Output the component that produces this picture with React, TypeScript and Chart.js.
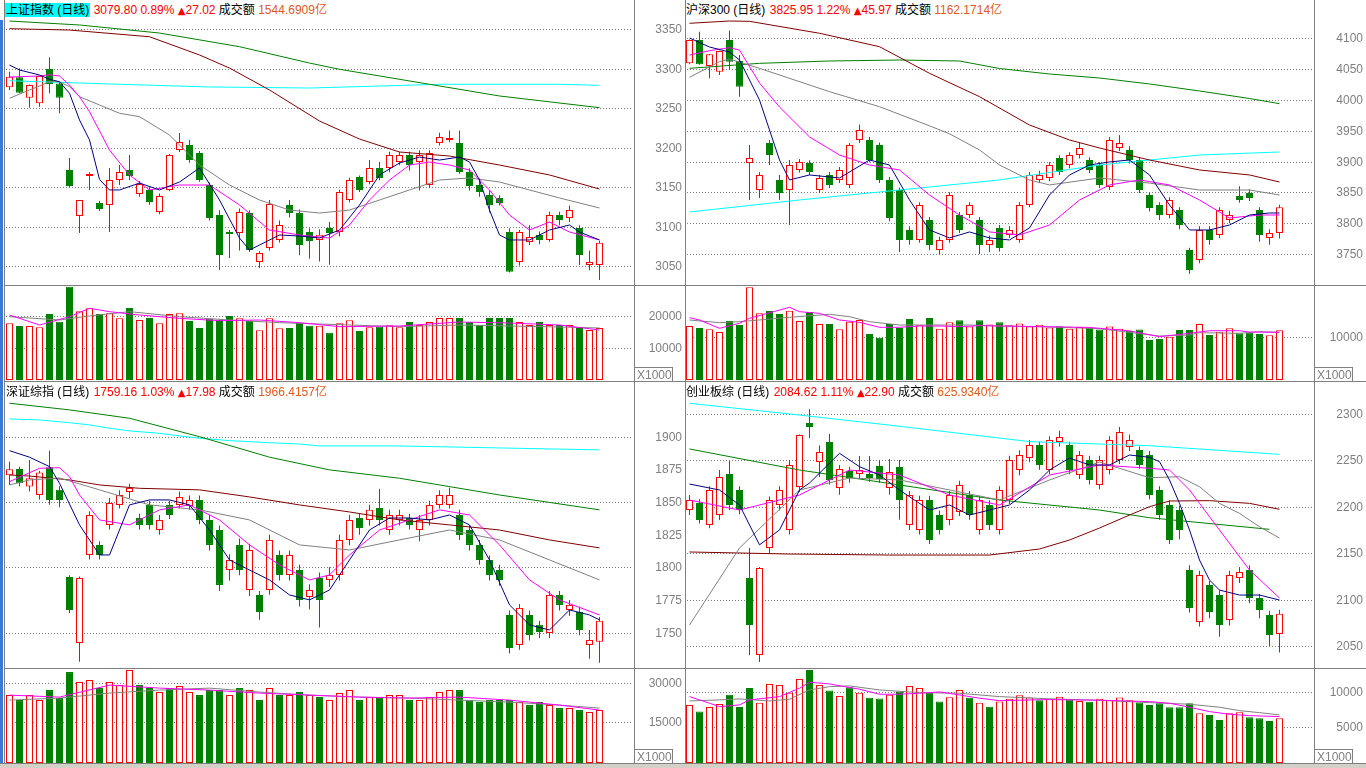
import React, { useEffect, useRef } from "react";
import { Chart, registerables } from "chart.js";

Chart.register(...registerables);

type OHLC = [number, number, number, number]; // open, high, low, close
type Pt = [number, number]; // [day index, value]

// ================= 上证指数 =================
const shInfo = ["上证指数 (日线)", "3079.80", "0.89%", "27.02", "1544.6909亿"];
const shCandles: OHLC[] = [
  [3276.6, 3296.3, 3273.2, 3290.0], [3289.2, 3300.6, 3269.0, 3269.7], [3263.4, 3280.0, 3250.8, 3279.5], [3256.3, 3291.5, 3252.0, 3290.9],
  [3299.7, 3314.6, 3269.0, 3280.8], [3281.5, 3283.0, 3243.7, 3263.4], [3171.9, 3187.0, 3150.3, 3151.6], [3113.6, 3134.0, 3092.0, 3133.9],
  [3164.3, 3169.0, 3146.6, 3166.8], [3130.0, 3133.0, 3120.0, 3122.5], [3127.6, 3174.4, 3093.4, 3159.2], [3159.2, 3178.2, 3152.9, 3169.4],
  [3171.9, 3190.9, 3159.2, 3164.3], [3141.5, 3158.0, 3138.0, 3154.2], [3146.6, 3150.0, 3128.0, 3131.4], [3118.7, 3142.0, 3116.0, 3139.0],
  [3146.6, 3192.0, 3145.0, 3190.9], [3197.2, 3218.7, 3194.7, 3207.3], [3203.5, 3210.0, 3181.0, 3184.5], [3193.4, 3196.0, 3157.0, 3159.2],
  [3152.9, 3156.0, 3108.0, 3111.1], [3114.9, 3121.0, 3045.3, 3064.3], [3093.4, 3096.0, 3060.5, 3090.9], [3092.1, 3123.0, 3070.0, 3118.7],
  [3117.4, 3121.0, 3068.0, 3070.6], [3055.4, 3069.0, 3047.8, 3066.8], [3073.1, 3133.9, 3070.0, 3128.8], [3083.3, 3108.0, 3080.0, 3102.3],
  [3127.6, 3134.0, 3112.0, 3117.4], [3117.4, 3122.0, 3064.0, 3076.9], [3093.4, 3098.0, 3060.0, 3082.0], [3083.3, 3097.0, 3056.0, 3090.0],
  [3098.5, 3106.0, 3052.0, 3092.1], [3093.4, 3147.0, 3088.0, 3144.0], [3133.9, 3162.0, 3131.0, 3159.2], [3163.0, 3165.0, 3144.0, 3146.6],
  [3156.7, 3184.5, 3154.0, 3174.4], [3174.4, 3182.0, 3159.0, 3161.8], [3174.4, 3195.0, 3169.0, 3190.9], [3182.0, 3195.0, 3178.0, 3190.9],
  [3190.9, 3195.0, 3171.0, 3178.2], [3182.0, 3197.0, 3146.0, 3190.9], [3152.9, 3197.0, 3149.0, 3193.4], [3206.0, 3219.0, 3203.0, 3213.7],
  [3209.9, 3222.0, 3207.0, 3212.4], [3206.0, 3222.0, 3167.0, 3169.4], [3169.4, 3174.0, 3146.0, 3151.6], [3152.9, 3161.0, 3138.0, 3144.0],
  [3140.2, 3146.0, 3118.0, 3127.6], [3136.4, 3140.0, 3127.0, 3130.0], [3093.4, 3098.0, 3042.0, 3043.0], [3055.4, 3096.0, 3051.0, 3093.4],
  [3080.7, 3102.0, 3077.0, 3087.1], [3089.6, 3094.0, 3078.0, 3083.3], [3083.3, 3119.0, 3081.0, 3114.9], [3114.9, 3119.0, 3102.0, 3108.6],
  [3111.0, 3127.0, 3106.0, 3121.2], [3098.5, 3102.0, 3051.6, 3064.3], [3051.6, 3070.0, 3045.0, 3055.4], [3051.6, 3082.0, 3032.6, 3079.8],
];
const shVolume = [
  17719, 16875, 16875, 16458, 20625, 18229, 29167, 21458, 22396, 20625, 20833, 19271, 22500, 18750, 19375, 17708, 20625, 20833, 18438, 16250,
  19167, 18750, 20000, 19271, 18438, 15521, 19271, 16146, 16250, 17917, 16979, 16979, 14792, 17708, 18646, 15313, 16458, 16667, 17083, 16458,
  18125, 17187, 18125, 19375, 19375, 19375, 18125, 17187, 19375, 19375, 19375, 18125, 17187, 18125, 17187, 17187, 17187, 16562, 15625, 16250,
];
const shMa5: Pt[] = [[0, 3304.8], [1, 3298.5], [3, 3292.2], [4, 3286.7], [5, 3283.7], [6, 3269], [7, 3235.2], [8, 3209.9], [9, 3160], [10, 3146.6], [11, 3146.6], [13, 3155.4], [15, 3146.6], [17, 3156.7], [19, 3174.4], [21, 3133.9], [23, 3085.8], [24, 3070.6], [25, 3076.9], [27, 3089.6], [29, 3088.3], [31, 3085.8], [33, 3095.9], [35, 3127.6], [37, 3165.6], [39, 3180.7], [41, 3188.3], [43, 3184.5], [45, 3188.3], [46, 3182], [47, 3159.2], [48, 3121.2], [49, 3089.6], [50, 3083.3], [52, 3083.3], [54, 3095.9], [56, 3102.3], [57, 3093.4], [59, 3083.3]];
const shMa10: Pt[] = [[0, 3289.6], [3, 3290.9], [4, 3292.5], [5, 3290.9], [6, 3279.5], [7, 3264.7], [8, 3245.7], [10, 3197.2], [12, 3165.6], [14, 3146.6], [17, 3152.9], [20, 3152.9], [23, 3127.6], [26, 3095.9], [29, 3089.6], [32, 3085.8], [34, 3102.3], [36, 3133.9], [38, 3159.2], [40, 3178.2], [42, 3182], [44, 3178.2], [46, 3171.9], [48, 3146.6], [50, 3114.9], [52, 3095.9], [54, 3106], [56, 3093.4], [59, 3083.3]];
const shMa20: Pt[] = [[0, 3262.7], [2, 3273.2], [3, 3278.2], [4, 3283.7], [5, 3283.7], [6, 3277.3], [7, 3264.7], [9, 3254.2], [11, 3243.7], [13, 3239.4], [16, 3216.2], [19, 3178.2], [22, 3152.9], [25, 3133.9], [28, 3121.2], [31, 3117.4], [34, 3121.2], [37, 3133.9], [40, 3146.6], [43, 3159.2], [46, 3161.8], [49, 3156.7], [52, 3146.6], [55, 3136.5], [59, 3123.8]];
const shMa60: Pt[] = [[0, 3350.8], [6, 3349.1], [14, 3340.6], [19, 3317.5], [22, 3301], [26, 3273.2], [31, 3233.9], [35, 3211.1], [39, 3194.7], [44, 3189.6], [49, 3178.2], [54, 3165.6], [59, 3147.8]];
const shMa120: Pt[] = [[0, 3360.5], [7, 3355.5], [15, 3345.3], [23, 3328], [30, 3307.3], [33, 3299.4], [42, 3280.4], [49, 3265.6], [59, 3250.8]];
const shMa250: Pt[] = [[0, 3284.9], [10, 3280.8], [20, 3277], [30, 3275.7], [37, 3278.2], [43, 3280.4], [55, 3280.4], [59, 3279.1]];
const shVma5: Pt[] = [[0, 20312], [3, 17187], [6, 19792], [8, 22396], [10, 21354], [13, 20312], [17, 19271], [21, 18542], [25, 18750], [29, 17917], [33, 16667], [39, 16875], [45, 18125], [50, 17812], [55, 17187], [59, 15625]];
const shVma10: Pt[] = [[0, 19792], [5, 18750], [8, 20000], [12, 21354], [17, 19792], [22, 18750], [27, 17917], [31, 17500], [39, 16667], [45, 17187], [50, 16875], [55, 16562], [59, 16250]];
const shPriceTicks = [3350, 3300, 3250, 3200, 3150, 3100, 3050];
const shPriceGrid = [3350, 3300, 3250, 3200, 3150, 3100, 3050];
const shVolTicks = [20000, 10000];

// ================= 沪深300 =================
const hsInfo = ["沪深300 (日线)", "3825.95", "1.22%", "45.97", "1162.1714亿"];
const hsCandles: OHLC[] = [
  [4059.4, 4098, 4058, 4097.3], [4097.3, 4110.8, 4057, 4057.8], [4055.1, 4074.5, 4035.1, 4074.1], [4045.8, 4080, 4040.5, 4079.4],
  [4097.3, 4112.4, 4048.6, 4062.1], [4063.2, 4072.9, 4005.3, 4021.5], [3897.6, 3926.9, 3837.6, 3905.7], [3853.8, 3883, 3840.8, 3878.2],
  [3930.1, 3935, 3894.4, 3910.6], [3870.1, 3878, 3837.6, 3849], [3853.8, 3902.5, 3797, 3894.4], [3886.3, 3904, 3882, 3899.3],
  [3897.6, 3902, 3878, 3883], [3853.8, 3878, 3849, 3873.3], [3878.2, 3883, 3857, 3862], [3870.1, 3891, 3865, 3886.3],
  [3862, 3930, 3857, 3926.9], [3935, 3960, 3930, 3951.2], [3935, 3940, 3899, 3902.5], [3926.9, 3931, 3865, 3870.1],
  [3870.1, 3875, 3803, 3808.4], [3853.8, 3858, 3753, 3772.7], [3788.9, 3795, 3765, 3772.7], [3772.7, 3834, 3768, 3829.5],
  [3805.1, 3810, 3756, 3764.6], [3756.5, 3778, 3750, 3772.7], [3772.7, 3850, 3768, 3845.7], [3813.2, 3818, 3784, 3788.9],
  [3813.2, 3834, 3808, 3829.5], [3805.1, 3810, 3750, 3764.6], [3764.6, 3780, 3753, 3772.7], [3792.2, 3797, 3754, 3759.7],
  [3780.8, 3795, 3776, 3788.9], [3772.7, 3834, 3768, 3829.5], [3829.5, 3883, 3826, 3878.2], [3870.1, 3885, 3865, 3878.2],
  [3873.3, 3899, 3868, 3894.4], [3905.7, 3910, 3878, 3883], [3894.4, 3915, 3889, 3910.6], [3910.6, 3930, 3905, 3922],
  [3902.5, 3907, 3881, 3886.3], [3894.4, 3899, 3857, 3862], [3858.7, 3940, 3854, 3935], [3922, 3943, 3917, 3930.1],
  [3918.8, 3925, 3897, 3902.5], [3902.5, 3907, 3849, 3853.8], [3845.7, 3850, 3819, 3824.6], [3829.5, 3834, 3805, 3813.2],
  [3813.2, 3842, 3808, 3837.6], [3821.4, 3826, 3790, 3797], [3756.5, 3760, 3718, 3724], [3740.2, 3795, 3735, 3788.9],
  [3788.9, 3795, 3765, 3772.7], [3780.8, 3826, 3776, 3821.4], [3805.1, 3820, 3800, 3813.2], [3844, 3860, 3833, 3837.6],
  [3849, 3855, 3836, 3840.8], [3821.4, 3826, 3770, 3780.8], [3775.9, 3790, 3765, 3784], [3784, 3830, 3775, 3825.95],
];
const hsVolume = [
  12636, 12168, 11864, 11232, 13806, 12870, 21692, 15608, 16146, 15444, 16216, 13806, 15912, 13104, 13104, 11864, 13642, 14040, 10764, 9898,
  13104, 12168, 14274, 12792, 14500, 12000, 13500, 14000, 12500, 14000, 13000, 13500, 12800, 13200, 12500, 12900, 12300, 12600, 12000, 12400,
  12200, 11800, 12500, 12000, 11500, 11800, 9360, 9594, 10132, 11700, 11700, 13104, 10530, 11302, 12098, 10928, 11068, 10764, 10460, 11630,
];
const hsMa5: Pt[] = [[0, 4100.5], [2, 4085.9], [4, 4077.8], [5, 4064.8], [7, 3999.9], [8, 3951.2], [9, 3902.5], [10, 3870.1], [12, 3878.2], [15, 3873.3], [18, 3902.5], [20, 3894.4], [22, 3837.6], [24, 3788.9], [26, 3776], [28, 3785.7], [30, 3776], [32, 3772.7], [34, 3792.2], [36, 3845.7], [38, 3878.2], [40, 3894.4], [42, 3899.3], [44, 3902.5], [46, 3878.2], [48, 3829.5], [50, 3788.9], [52, 3788.9], [54, 3797], [56, 3813.2], [58, 3816.5], [59, 3816.5]];
const hsMa10: Pt[] = [[0, 4072.9], [2, 4079.9], [4, 4084.8], [5, 4081], [7, 4027.5], [9, 3988.5], [12, 3939.9], [15, 3910.6], [18, 3894.4], [21, 3886.3], [24, 3845.7], [27, 3813.2], [30, 3785.7], [33, 3780.8], [36, 3797], [39, 3837.6], [42, 3862], [45, 3870.1], [48, 3862], [51, 3837.6], [54, 3808.4], [57, 3813.2], [59, 3813.2]];
const hsMa20: Pt[] = [[0, 4036.7], [3, 4062.1], [4, 4066.4], [7, 4051.3], [14, 4013.4], [19, 3989], [24, 3958], [26, 3945], [29, 3918.8], [31, 3894.4], [34, 3870.1], [36, 3862], [41, 3873.3], [46, 3865], [51, 3853.8], [56, 3853.8], [59, 3845.7]];
const hsMa60: Pt[] = [[0, 4124.4], [4, 4128.1], [6, 4127.6], [13, 4108.2], [19, 4086.4], [24, 4043.2], [29, 4005.3], [34, 3959.3], [38, 3935], [41, 3922], [46, 3902.5], [51, 3886.3], [56, 3878.2], [59, 3866.8]];
const hsMa120: Pt[] = [[0, 4051.3], [7, 4059.4], [14, 4063.2], [21, 4064.8], [27, 4063.2], [31, 4051], [36, 4042.1], [41, 4035.6], [46, 4025.9], [51, 4014.5], [56, 4002.3], [59, 3993.9]];
const hsMa250: Pt[] = [[0, 3818.1], [11, 3837.6], [21, 3853.8], [31, 3870.1], [41, 3894.4], [51, 3910.6], [59, 3915.5]];
const hsVma5: Pt[] = [[0, 14578], [1, 14040], [3, 12098], [5, 13268], [6, 14438], [10, 17012], [11, 15982], [13, 15608], [15, 14040], [17, 13502], [19, 12332], [21, 12332], [23, 12636], [25, 12636], [27, 12472], [29, 12706], [35, 12500], [40, 12300], [44, 11500], [47, 10132], [50, 10928], [52, 11536], [55, 11536], [56, 11232], [59, 11162]];
const hsVma10: Pt[] = [[0, 14040], [3, 13408], [5, 13642], [7, 14040], [10, 14672], [14, 15374], [16, 14812], [18, 13642], [21, 12870], [25, 12870], [28, 12870], [31, 12636], [36, 12400], [41, 12000], [47, 10296], [50, 10530], [51, 11068], [55, 10928], [57, 11302], [59, 11162]];
const hsPriceTicks = [4100, 4050, 4000, 3950, 3900, 3850, 3800, 3750];
const hsPriceGrid = [4100, 4050, 4000, 3950, 3900, 3850, 3800, 3750];
const hsVolTicks = [10000];

// ================= 深证综指 =================
const szInfo = ["深证综指 (日线)", "1759.16", "1.03%", "17.98", "1966.4157亿"];
const szCandles: OHLC[] = [
  [1870.5, 1880.9, 1863.1, 1875.1], [1875.3, 1877, 1862, 1864.4], [1861.8, 1882.2, 1858, 1868.2], [1855.4, 1874, 1852, 1872.5],
  [1876.6, 1889.3, 1848, 1851.6], [1859.3, 1862, 1846, 1851.6], [1792.7, 1794, 1765, 1767.4], [1742.2, 1793, 1727.7, 1791.9],
  [1809.5, 1843, 1806, 1840.1], [1817.2, 1820, 1806, 1809.5], [1832.5, 1853, 1829, 1849.3], [1847.8, 1859, 1845, 1855.4],
  [1857.7, 1864, 1853, 1860.8], [1837.8, 1841, 1829, 1832.5], [1847.8, 1851, 1829, 1832.5], [1828.6, 1840, 1825, 1836.3],
  [1847.8, 1851, 1837, 1840.1], [1847.8, 1858, 1845, 1853.9], [1847, 1855, 1844, 1851.6], [1851.6, 1855, 1833, 1836.3],
  [1836.3, 1840, 1813, 1817.2], [1828.6, 1832, 1782, 1786.6], [1798, 1810, 1790, 1805.7], [1817.2, 1822, 1794, 1798],
  [1782.7, 1818, 1778, 1813.3], [1778.9, 1782, 1760, 1765.9], [1782.7, 1825, 1779, 1821], [1809.5, 1813, 1790, 1794.2],
  [1794.2, 1813, 1790, 1809.5], [1798, 1802, 1770, 1775.1], [1777.4, 1787, 1768, 1782.7], [1791.9, 1796, 1754, 1775.1],
  [1790.4, 1800, 1785, 1794.2], [1794.2, 1825, 1790, 1821], [1821, 1840, 1817, 1836.3], [1837.8, 1841, 1825, 1830.2],
  [1836.3, 1848, 1832, 1844], [1845.5, 1860, 1832, 1836.3], [1828.6, 1844, 1825, 1840.1], [1836.3, 1844, 1832, 1840.1],
  [1837.8, 1841, 1829, 1832.5], [1828.6, 1840, 1820, 1836.3], [1836.3, 1851, 1832, 1847.8], [1847.8, 1859, 1845, 1855.4],
  [1847.8, 1861, 1845, 1855.4], [1840.1, 1844, 1821, 1824.8], [1828.6, 1832, 1813, 1817.2], [1817.2, 1821, 1802, 1805.7],
  [1805.7, 1809, 1790, 1794.2], [1798, 1802, 1786, 1790.4], [1763.6, 1767, 1734, 1738.3], [1740.6, 1772, 1737, 1769],
  [1763.6, 1767, 1744, 1748.3], [1756, 1759, 1746, 1750.6], [1749.8, 1782, 1746, 1778.9], [1778.9, 1782, 1767, 1771.3],
  [1767.4, 1775, 1763, 1771.3], [1765.9, 1770, 1748, 1752.1], [1740.6, 1752, 1730, 1744.5], [1743, 1762, 1727, 1759.16],
];
const szVolume = [
  25389, 23436, 25389, 23436, 27342, 24217, 34373, 30467, 31248, 28123, 30467, 29295, 35154, 29295, 28123, 26561, 28123, 28904, 26561, 25389,
  27342, 27342, 25389, 28123, 27342, 23436, 28123, 25389, 25389, 26561, 25389, 24608, 23436, 26170, 27342, 23436, 24608, 24608, 25389, 25389,
  23436, 23436, 24608, 26561, 27342, 27342, 23436, 22655, 23436, 23436, 23436, 22655, 21483, 22655, 21483, 20311, 20311, 19530, 18749, 19530,
];
const szMa5: Pt[] = [[0, 1889.3], [2, 1884.3], [4, 1877.1], [5, 1864.4], [7, 1832.5], [9, 1809.5], [10, 1809.5], [12, 1847.8], [14, 1851.6], [16, 1851.6], [18, 1847.8], [20, 1828.6], [22, 1805.7], [24, 1798], [26, 1790.4], [28, 1778.9], [30, 1775.1], [32, 1782.7], [34, 1805.7], [36, 1828.6], [38, 1837.8], [40, 1837.8], [42, 1836.3], [44, 1840.1], [46, 1832.5], [48, 1805.7], [50, 1771.3], [52, 1756], [54, 1752.1], [56, 1767.4], [58, 1763.6], [59, 1759.8]];
const szMa10: Pt[] = [[0, 1865.6], [3, 1875.8], [5, 1876.3], [6, 1869.4], [7, 1855.4], [9, 1836.3], [12, 1832.5], [15, 1844], [18, 1847.8], [21, 1836.3], [24, 1817.2], [27, 1801.9], [30, 1790.4], [32, 1794.2], [34, 1809.5], [37, 1828.6], [40, 1836.3], [43, 1844], [46, 1840.1], [49, 1817.2], [52, 1790.4], [55, 1775.1], [59, 1763.6]];
const szMa20: Pt[] = [[0, 1863.1], [2, 1866.9], [5, 1868.4], [9, 1859.3], [14, 1847.8], [19, 1844], [24, 1836.3], [29, 1817.2], [34, 1813.3], [39, 1821], [44, 1828.6], [49, 1821], [54, 1805.7], [59, 1790.4]];
const szMa60: Pt[] = [[0, 1870.7], [2, 1869.9], [6, 1866.9], [9, 1863.1], [13, 1860.5], [19, 1859.3], [24, 1853.9], [29, 1847.8], [34, 1842.4], [39, 1836.3], [44, 1832.5], [49, 1828.6], [54, 1821], [59, 1814.9]];
const szMa120: Pt[] = [[0, 1925.6], [6, 1920.5], [12, 1914.1], [19, 1900], [26, 1884.3], [32, 1874.6], [39, 1868.2], [49, 1855.4], [59, 1844]];
const szMa250: Pt[] = [[0, 1913.6], [3, 1912.8], [6, 1910.7], [8, 1909], [10, 1906.5], [12, 1904.4], [15, 1902.6], [17, 1900.6], [19, 1898.8], [22, 1897], [26, 1895.4], [29, 1894.4], [31, 1892.9], [39, 1892.9], [49, 1891.4], [59, 1889.9]];
const szVma5: Pt[] = [[0, 25389], [5, 24608], [10, 29295], [15, 28123], [20, 27342], [25, 26170], [30, 25389], [35, 24608], [40, 24217], [45, 24608], [50, 23436], [55, 21483], [59, 19530]];
const szVma10: Pt[] = [[0, 23436], [5, 24217], [10, 26170], [15, 27342], [20, 28123], [25, 26561], [30, 25389], [35, 24608], [40, 24217], [45, 23436], [50, 22655], [55, 21483], [59, 20311]];
const szPriceTicks = [1900, 1875, 1850, 1825, 1800, 1775, 1750];
const szPriceGrid = [1900, 1850, 1800, 1750];
const szVolTicks = [30000, 15000];

// ================= 创业板综 =================
const cyInfo = ["创业板综 (日线)", "2084.62", "1.11%", "22.90", "625.9340亿"];
const cyCandles: OHLC[] = [
  [2196.5, 2212.7, 2191.2, 2207.3], [2204, 2208, 2182, 2185.8], [2180.4, 2222, 2177, 2218.1], [2191.2, 2239.6, 2185.8, 2232.1],
  [2235.3, 2249.3, 2196.5, 2201.9], [2218.1, 2222, 2192, 2196.5], [2123.2, 2155.6, 2040.3, 2072.6], [2040.3, 2135, 2032.7, 2134],
  [2155.6, 2211, 2150, 2207.3], [2201.9, 2222, 2196, 2218.1], [2175, 2250, 2170, 2245], [2221.3, 2278, 2216, 2277.3],
  [2290.3, 2305, 2274, 2286], [2248.2, 2266, 2232, 2259], [2269.8, 2278.4, 2224, 2228.9], [2220.2, 2245, 2213, 2240.7],
  [2238.6, 2243, 2226, 2231], [2235.3, 2254.7, 2231, 2239.6], [2235.3, 2254.7, 2227, 2231], [2243.9, 2250, 2226, 2229.9],
  [2220.2, 2251.4, 2213, 2237.5], [2242.9, 2250.4, 2186, 2207.3], [2180.4, 2217, 2175, 2212.7], [2175, 2212, 2170, 2207.3],
  [2207.3, 2212, 2160, 2164.2], [2191.2, 2196, 2170, 2175], [2185.8, 2217, 2180, 2212.7], [2194.4, 2228, 2190, 2223.5],
  [2212.7, 2217, 2186, 2191.2], [2175, 2212, 2170, 2207.3], [2201.9, 2207, 2175, 2180.4], [2175, 2222, 2170, 2218.1],
  [2207.3, 2255, 2203, 2250.4], [2239.6, 2261, 2234, 2255.8], [2252.6, 2272, 2248, 2266.6], [2266.6, 2270, 2240, 2245],
  [2239.6, 2276, 2235, 2272], [2269.8, 2282, 2265, 2275.2], [2266.6, 2270, 2235, 2239.6], [2234.2, 2260, 2230, 2255.8],
  [2250.4, 2255, 2224, 2228.9], [2223.5, 2255, 2219, 2250.4], [2239.6, 2276, 2235, 2272], [2250.4, 2286, 2246, 2280.6],
  [2264.4, 2278, 2260, 2272], [2261.2, 2265, 2241, 2245], [2255.8, 2260, 2208, 2212.7], [2218.1, 2222, 2186, 2191.2],
  [2201.9, 2207, 2160, 2164.2], [2196.5, 2201, 2165, 2175], [2131.9, 2137, 2086, 2091], [2075.8, 2131, 2071, 2126.5],
  [2115.7, 2120, 2080, 2086.6], [2105, 2110, 2060, 2072.6], [2078, 2131, 2072, 2126.5], [2123.2, 2135, 2118, 2129.7],
  [2131.9, 2137, 2096, 2101.7], [2101.7, 2106, 2080, 2088.8], [2083.4, 2088, 2050, 2061.8], [2062.9, 2089, 2043, 2084.62],
];
const cyVolume = [
  8143, 7203, 7862, 8284, 9589, 7862, 10530, 8466, 11092, 10951, 9870, 11794, 13057, 10951, 10151, 9407, 10628, 9870, 9168, 9028,
  9589, 10011, 10811, 10530, 9870, 8607, 9224, 10249, 9168, 8466, 7904, 8607, 9000, 9500, 9200, 8800, 9000, 9300, 8900, 8700,
  8600, 9000, 8800, 9200, 8800, 8500, 8143, 8382, 7820, 7820, 8382, 6978, 6739, 6037, 6978, 7118, 6416, 6276, 5897, 6276,
];
const cyMa5: Pt[] = [[0, 2224.5], [3, 2218.1], [5, 2201.9], [7, 2159], [9, 2175], [11, 2218.1], [12, 2225.6], [15, 2257.6], [17, 2243.2], [19, 2234.2], [21, 2218.1], [24, 2196.5], [26, 2201.9], [28, 2191.1], [30, 2196.5], [32, 2201.9], [34, 2218.1], [36, 2239.6], [38, 2252.6], [40, 2245], [42, 2245], [44, 2255.8], [46, 2253.3], [47, 2248.6], [48, 2228.9], [49, 2203.7], [50, 2175], [51, 2142.6], [52, 2121.1], [53, 2110.3], [55, 2104.9], [57, 2104.9], [59, 2099.5]];
const cyMa10: Pt[] = [[0, 2207.3], [5, 2196.5], [11, 2212.7], [16, 2239.6], [21, 2234.2], [26, 2212.7], [31, 2201.9], [36, 2234.2], [41, 2245], [46, 2241.5], [48, 2239.6], [50, 2218.1], [51, 2203.7], [52, 2189.3], [53, 2175], [56, 2131.9], [59, 2101.7]];
const cyMa20: Pt[] = [[0, 2072.6], [5, 2155.6], [11, 2218.1], [16, 2231], [21, 2228.9], [26, 2218.1], [31, 2207.3], [36, 2228.9], [41, 2248.2], [46, 2231.3], [49, 2232.4], [51, 2221.6], [53, 2203.7], [55, 2192.9], [57, 2178.5], [59, 2166.3]];
const cyMa60: Pt[] = [[0, 2151.3], [10, 2149.1], [20, 2148], [30, 2148], [35, 2154.5], [38, 2164.2], [41, 2177.1], [44, 2191.1], [46, 2200.1], [48, 2206.2], [52, 2206.6], [56, 2203.7], [59, 2197.3]];
const cyMa120: Pt[] = [[0, 2262.3], [11, 2239.6], [21, 2223.5], [31, 2207.3], [41, 2196.5], [46, 2188.2], [58, 2175.7]];
const cyMa250: Pt[] = [[0, 2311.5], [10, 2300], [20, 2288], [34, 2270.2], [46, 2265.8], [59, 2256.5]];
const cyVma5: Pt[] = [[0, 9309], [2, 8382], [3, 7904], [5, 8143], [6, 8845], [9, 9309], [11, 10488], [12, 11330], [14, 11092], [17, 10347], [19, 9645], [21, 9645], [23, 9786], [25, 9968], [27, 9547], [29, 9084], [31, 8747], [36, 8900], [41, 8800], [46, 8607], [48, 8382], [50, 7820], [52, 7203], [54, 6838], [56, 6641], [59, 6501]];
const cyVma10: Pt[] = [[0, 8705], [3, 8845], [5, 8986], [8, 8705], [10, 8943], [12, 10249], [14, 10712], [16, 10811], [19, 10249], [23, 9870], [27, 9786], [31, 9309], [36, 9000], [41, 8800], [46, 8466], [50, 8241], [53, 7820], [55, 7343], [57, 7062], [59, 6739]];
const cyPriceTicks = [2300, 2250, 2200, 2150, 2100, 2050];
const cyPriceGrid = [2300, 2250, 2200, 2150, 2100, 2050];
const cyVolTicks = [10000, 5000];

// ================= styling / layout =================
const FONT = '"Liberation Sans", Arial, "Noto Sans CJK SC", sans-serif';
const RED = "#ff0000";
const DGREEN = "#008000";
const LINE_COLORS = ["#000080", "#ff00ff", "#808080", "#800000", "#008000", "#00ffff"];
const VLINE_COLORS = ["#ff00ff", "#808080"];
const FRAME = "#808080";
const SPAN = 62.8; // x-units visible across the 628px plot

function decor(labels: number[], grid: number[]) {
  return {
    id: "decor",
    beforeDatasetsDraw(chart: any) {
      const { ctx, chartArea } = chart;
      const ys = chart.scales.y;
      ctx.save();
      ctx.strokeStyle = "#808080";
      ctx.lineWidth = 1;
      ctx.setLineDash([1, 2]);
      grid.forEach((v) => {
        const p = Math.round(ys.getPixelForValue(v)) + 0.5;
        ctx.beginPath();
        ctx.moveTo(chartArea.left + 1, p);
        ctx.lineTo(chartArea.right - 2, p);
        ctx.stroke();
      });
      ctx.restore();
    },
    afterDraw(chart: any) {
      const { ctx } = chart;
      const ys = chart.scales.y;
      ctx.save();
      ctx.fillStyle = "#808080";
      ctx.font = `12px ${FONT}`;
      ctx.textAlign = "right";
      ctx.textBaseline = "middle";
      labels.forEach((v) => ctx.fillText(String(v), chart.width - 3, Math.round(ys.getPixelForValue(v)) + 1));
      ctx.restore();
    },
  };
}

function baseOptions(xMin: number, yMin: number, yMax: number) {
  return {
    animation: false,
    responsive: false,
    maintainAspectRatio: false,
    devicePixelRatio: 1,
    events: [],
    layout: { padding: { left: 0, right: 52, top: 0, bottom: 0 } },
    plugins: { legend: { display: false }, tooltip: { enabled: false } },
    scales: {
      x: { type: "linear", min: xMin, max: xMin + SPAN, display: false, offset: false },
      y: { type: "linear", min: yMin, max: yMax, display: false },
    },
  };
}

function lineSet(pts: Pt[], color: string) {
  return {
    type: "line",
    data: pts.map(([x, y]) => ({ x, y })),
    borderColor: color,
    borderWidth: 1,
    pointRadius: 0,
    tension: 0,
    order: 0,
  };
}

function priceConfig(candles: OHLC[], mas: Pt[][], xMin: number, yMin: number, yMax: number, labels: number[], grid: number[]) {
  const up = candles.map((c) => c[3] >= c[0]);
  return {
    type: "bar",
    data: {
      datasets: [
        ...mas.map((m, k) => lineSet(m, LINE_COLORS[k])),
        {
          type: "bar",
          data: candles.map((c, i) => ({ x: i, y: [c[0], c[3]] })),
          backgroundColor: up.map((u) => (u ? "#ffffff" : DGREEN)),
          borderColor: up.map((u) => (u ? RED : DGREEN)),
          borderWidth: 1,
          borderSkipped: false,
          barThickness: 7,
          grouped: false,
          inflateAmount: 0,
          minBarLength: 1,
          order: 1,
        },
        {
          type: "bar",
          data: candles.map((c, i) => ({ x: i, y: [c[2], c[1]] })),
          backgroundColor: up.map((u) => (u ? RED : DGREEN)),
          borderWidth: 0,
          barThickness: 1,
          grouped: false,
          inflateAmount: 0,
          order: 2,
        },
      ],
    },
    options: baseOptions(xMin, yMin, yMax),
    plugins: [decor(labels, grid)],
  };
}

function volumeConfig(candles: OHLC[], vol: number[], vmas: Pt[][], xMin: number, yMin: number, yMax: number, ticks: number[]) {
  const up = candles.map((c) => c[3] >= c[0]);
  return {
    type: "bar",
    data: {
      datasets: [
        ...vmas.map((m, k) => lineSet(m, VLINE_COLORS[k])),
        {
          type: "bar",
          data: vol.map((v, i) => ({ x: i, y: [yMin, v] })),
          backgroundColor: up.map((u) => (u ? "#ffffff" : DGREEN)),
          borderColor: up.map((u) => (u ? RED : DGREEN)),
          borderWidth: 1,
          borderSkipped: false,
          barThickness: 7,
          grouped: false,
          inflateAmount: 0,
          order: 1,
        },
      ],
    },
    options: baseOptions(xMin, yMin, yMax),
    plugins: [decor(ticks, ticks)],
  };
}

function ChartBox({ left, top, width, height, config }: { left: number; top: number; width: number; height: number; config: () => any }) {
  const ref = useRef<HTMLCanvasElement>(null);
  useEffect(() => {
    const chart = new Chart(ref.current as HTMLCanvasElement, config());
    return () => chart.destroy();
  }, []);
  return <canvas ref={ref} width={width} height={height} style={{ position: "absolute", left, top, width, height, display: "block" }} />;
}

function Title({ left, top, info, highlight }: { left: number; top: number; info: string[]; highlight?: boolean }) {
  return (
    <div style={{ position: "absolute", left, top, height: 16, lineHeight: "16px", font: `12px ${FONT}`, whiteSpace: "pre", color: "#000" }}>
      <span style={{ background: highlight ? "#00ffff" : "transparent", padding: "0 1px" }}>{info[0]}</span>
      <span style={{ color: "#ff0000" }}> {info[1]} {info[2]} </span>
      <span style={{ color: "#ff0000", fontFamily: '"DejaVu Sans", sans-serif', fontSize: 10 }}>▲</span>
      <span style={{ color: "#ff0000" }}>{info[3]}</span>
      <span> 成交额 </span>
      <span style={{ color: "#e05a1e" }}>{info[4]}</span>
    </div>
  );
}

const Line = ({ x, y, w, h, c }: { x: number; y: number; w: number; h: number; c?: string }) => (
  <div style={{ position: "absolute", left: x, top: y, width: w, height: h, background: c || FRAME }} />
);

const XBox = ({ x, y }: { x: number; y: number }) => (
  <div style={{ position: "absolute", left: x, top: y, width: 38, height: 14, borderTop: `1px solid ${FRAME}`, borderRight: `1px solid ${FRAME}`, font: `12px ${FONT}`, color: "#808080", lineHeight: "14px", paddingLeft: 2, boxSizing: "border-box" }}>X1000</div>
);

export default function App() {
  const LX = -0.45; // left panels: first day centred 4.5px into plot
  const RX = -0.35; // right panels
  return (
    <div style={{ position: "fixed", left: 0, top: 0, width: 1366, height: 768, background: "#ffffff", overflow: "hidden" }}>
      {/* charts */}
      <ChartBox left={5} top={17} width={680} height={268} config={() => priceConfig(shCandles, [shMa5, shMa10, shMa20, shMa60, shMa120, shMa250], LX, 3026.3, 3365.6, shPriceTicks, shPriceGrid)} />
      <ChartBox left={5} top={286} width={680} height={94} config={() => volumeConfig(shCandles, shVolume, [shVma5, shVma10], LX, 0, 29375, shVolTicks)} />
      <ChartBox left={686} top={17} width={680} height={268} config={() => priceConfig(hsCandles, [hsMa5, hsMa10, hsMa20, hsMa60, hsMa120, hsMa250], RX, 3699.6, 4134.6, hsPriceTicks, hsPriceGrid)} />
      <ChartBox left={686} top={286} width={680} height={94} config={() => volumeConfig(hsCandles, hsVolume, [hsVma5, hsVma10], RX, 0, 21996, hsVolTicks)} />
      <ChartBox left={5} top={398} width={680} height={270} config={() => priceConfig(szCandles, [szMa5, szMa10, szMa20, szMa60, szMa120, szMa250], LX, 1723.0, 1929.6, szPriceTicks, szPriceGrid)} />
      <ChartBox left={5} top={669} width={680} height={94} config={() => volumeConfig(szCandles, szVolume, [szVma5, szVma10], LX, -1131, 35586, szVolTicks)} />
      <ChartBox left={686} top={398} width={680} height={270} config={() => priceConfig(cyCandles, [cyMa5, cyMa10, cyMa20, cyMa60, cyMa120, cyMa250], RX, 2026.3, 2317.2, cyPriceTicks, cyPriceGrid)} />
      <ChartBox left={686} top={669} width={680} height={94} config={() => volumeConfig(cyCandles, cyVolume, [cyVma5, cyVma10], RX, -10, 13187, cyVolTicks)} />

      {/* frame */}
      <Line x={0} y={20} w={3} h={748} c="#3b78d8" />
      <Line x={4} y={0} w={1} h={764} />
      <Line x={634} y={0} w={1} h={764} />
      <Line x={685} y={0} w={1} h={764} />
      <Line x={1314} y={0} w={1} h={764} />
      <Line x={4} y={285} w={1362} h={1} />
      <Line x={4} y={381} w={1362} h={1} />
      <Line x={4} y={668} w={1362} h={1} />
      <Line x={0} y={763} w={1366} h={1} />
      <Line x={0} y={764} w={1366} h={4} c="#d4d0c8" />
      <XBox x={635} y={367} />
      <XBox x={1315} y={367} />
      <XBox x={635} y={749} />
      <XBox x={1315} y={749} />

      {/* titles */}
      <Title left={5} top={0} info={shInfo} highlight />
      <Title left={685} top={0} info={hsInfo} />
      <Title left={5} top={382} info={szInfo} />
      <Title left={685} top={382} info={cyInfo} />
    </div>
  );
}
